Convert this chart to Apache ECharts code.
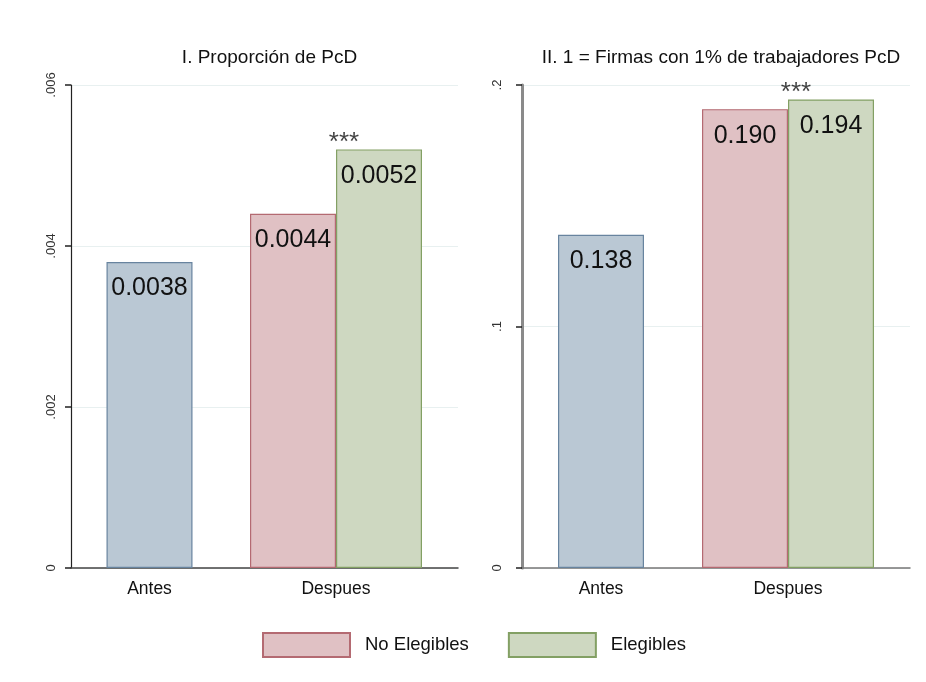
<!DOCTYPE html>
<html>
<head>
<meta charset="utf-8">
<script src="https://cdn.jsdelivr.net/npm/echarts@6/dist/echarts.min.js"></script>
<style>
  html, body { margin: 0; padding: 0; background: #ffffff; }
  #chart { width: 926px; height: 682px; }
</style>
</head>
<body>
<div id="chart"></div>
<script>
// Panel titles
const panelTitles = ['I. Proporción de PcD', 'II. 1 = Firmas con 1% de trabajadores PcD'];

// Categories
const periodBefore = 'Antes';
const periodAfter = 'Despues';
const groupNames = ['No Elegibles', 'Elegibles'];

// Panel I: share of workers with disabilities
const shareBefore = [0.0038];
const shareNoElig = [0.0044];
const shareElig = [0.0052];
const shareLabels = ['0.0038', '0.0044', '0.0052'];
const shareTicks = ['0', '.002', '.004', '.006'];

// Panel II: firms meeting the 1% quota
const quotaBefore = [0.138];
const quotaNoElig = [0.190];
const quotaElig = [0.194];
const quotaLabels = ['0.138', '0.190', '0.194'];
const quotaTicks = ['0', '.1', '.2'];

// Significance marker above the "Despues" group
const significance = ['***', '***'];

const FONT = "'Liberation Sans', Arial, sans-serif";
const colors = {
  before: { fill: '#bac8d4', border: '#68849f' },
  noElig: { fill: '#e0c1c4', border: '#b46a72' },
  elig:   { fill: '#ced8c1', border: '#83a064' }
};

const TOP = 85, HEIGHT = 483;

// per panel: frame grid, "Antes" grid, "Despues" grid
const grids = [
  { left: 71, width: 387, top: TOP, height: HEIGHT },
  { left: 59.5, width: 180, top: TOP, height: HEIGHT },
  { left: 246, width: 180, top: TOP, height: HEIGHT },
  { left: 522, width: 388, top: TOP, height: HEIGHT },
  { left: 511, width: 180, top: TOP, height: HEIGHT },
  { left: 698, width: 180, top: TOP, height: HEIGHT }
];

function frameX(gridIndex, color, width) {
  return {
    gridIndex, type: 'category', data: [''],
    axisLine: { show: true, lineStyle: { color, width } },
    axisTick: { show: false }, axisLabel: { show: false }, splitLine: { show: false }
  };
}
function catX(gridIndex, label) {
  return {
    gridIndex, type: 'category', data: [label],
    axisLine: { show: false }, axisTick: { show: false },
    axisLabel: { show: true, fontSize: 17.5, color: '#111', fontFamily: FONT, margin: 12 }
  };
}
function frameY(gridIndex, max, interval, ticks, lineColor, lineWidth, margin) {
  return {
    gridIndex, type: 'value', min: 0, max, interval,
    axisLine: { show: true, lineStyle: { color: lineColor, width: lineWidth } },
    axisTick: { show: true, length: 6, lineStyle: { color: '#222', width: 1.5 } },
    axisLabel: {
      show: true, rotate: 90, fontSize: 13, color: '#333', fontFamily: FONT, margin,
      formatter: (v, i) => ticks[i]
    },
    splitLine: { show: true, lineStyle: { color: '#e8f0f0', width: 1 } }
  };
}
function hiddenY(gridIndex, max) {
  return { gridIndex, type: 'value', min: 0, max, show: false, splitLine: { show: false } };
}

function barSeries(name, xi, yi, data, label, col) {
  return {
    name, type: 'bar', xAxisIndex: xi, yAxisIndex: yi, data,
    barWidth: 86, barGap: '0%',
    itemStyle: { color: col.fill, borderColor: col.border, borderWidth: 1.2 },
    label: {
      show: true, position: 'insideTop', distance: 14,
      fontSize: 25, color: '#111', fontFamily: FONT,
      formatter: () => label
    },
    silent: true, animation: false
  };
}
function sigSeries(xi, yi, data, text) {
  return {
    type: 'scatter', xAxisIndex: xi, yAxisIndex: yi, data,
    symbolSize: 0,
    label: {
      show: true, position: 'top', distance: -6, offset: [8, 0],
      fontSize: 26, color: '#111', fontFamily: FONT,
      formatter: () => text
    },
    silent: true, animation: false
  };
}

const option = {
  backgroundColor: '#ffffff',
  animation: false,
  textStyle: { fontFamily: FONT },
  title: [
    { text: panelTitles[0], left: 264.5, top: 43, textAlign: 'center',
      textStyle: { fontSize: 19, fontWeight: 'normal', color: '#111', fontFamily: FONT } },
    { text: panelTitles[1], left: 716, top: 43, textAlign: 'center',
      textStyle: { fontSize: 19, fontWeight: 'normal', color: '#111', fontFamily: FONT } }
  ],
  legend: {
    data: groupNames, left: 257, top: 627, orient: 'horizontal',
    itemWidth: 87, itemHeight: 24, itemGap: 39, icon: 'rect',
    selectedMode: false,
    textStyle: { fontSize: 18.5, color: '#111', fontFamily: FONT, padding: [0, 0, 0, 10] }
  },
  grid: grids,
  xAxis: [
    frameX(0, '#444', 1.5),
    catX(1, periodBefore),
    catX(2, periodAfter),
    frameX(3, '#777', 1.5),
    catX(4, periodBefore),
    catX(5, periodAfter)
  ],
  yAxis: [
    frameY(0, 0.006, 0.002, shareTicks, '#222', 1.2, 13),
    hiddenY(1, 0.006),
    hiddenY(2, 0.006),
    frameY(3, 0.2, 0.1, quotaTicks, '#8a8a8a', 3, 18),
    hiddenY(4, 0.2),
    hiddenY(5, 0.2)
  ],
  series: [
    barSeries(periodBefore, 1, 1, shareBefore, shareLabels[0], colors.before),
    barSeries(groupNames[0], 2, 2, shareNoElig, shareLabels[1], colors.noElig),
    barSeries(groupNames[1], 2, 2, shareElig, shareLabels[2], colors.elig),
    sigSeries(2, 2, [Math.max(shareNoElig[0], shareElig[0])], significance[0]),
    barSeries(periodBefore, 4, 4, quotaBefore, quotaLabels[0], colors.before),
    barSeries(groupNames[0], 5, 5, quotaNoElig, quotaLabels[1], colors.noElig),
    barSeries(groupNames[1], 5, 5, quotaElig, quotaLabels[2], colors.elig),
    sigSeries(5, 5, [Math.max(quotaNoElig[0], quotaElig[0])], significance[1])
  ]
};

const chart = echarts.init(document.getElementById('chart'), null, { renderer: 'canvas' });
chart.setOption(option);
</script>
</body>
</html>
